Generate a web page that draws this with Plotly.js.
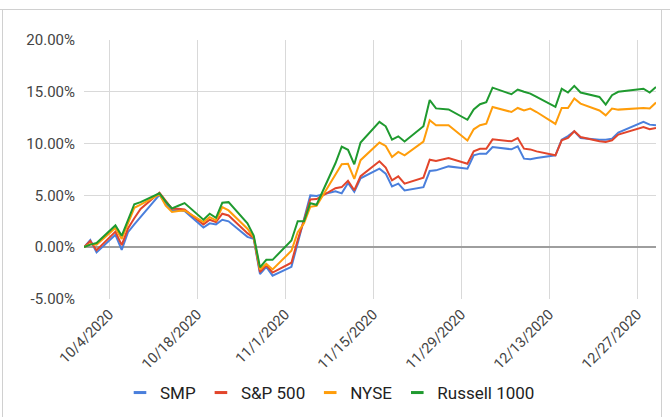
<!DOCTYPE html>
<html>
<head>
<meta charset="utf-8">
<script src="https://cdn.plot.ly/plotly-3.0.1.min.js"></script>
<style>
html,body{margin:0;padding:0;background:#fff;}
#chart{width:670px;height:417px;}
</style>
</head>
<body>
<div id="chart"></div>
<script>
const dates = ['2020-09-30','2020-10-01','2020-10-02','2020-10-05','2020-10-06','2020-10-07','2020-10-08','2020-10-09','2020-10-12','2020-10-13','2020-10-14','2020-10-15','2020-10-16','2020-10-19','2020-10-20','2020-10-21','2020-10-22','2020-10-23','2020-10-26','2020-10-27','2020-10-28','2020-10-29','2020-10-30','2020-11-02','2020-11-03','2020-11-04','2020-11-05','2020-11-06','2020-11-09','2020-11-10','2020-11-11','2020-11-12','2020-11-13','2020-11-16','2020-11-17','2020-11-18','2020-11-19','2020-11-20','2020-11-23','2020-11-24','2020-11-25','2020-11-27','2020-11-30','2020-12-01','2020-12-02','2020-12-03','2020-12-04','2020-12-07','2020-12-08','2020-12-09','2020-12-10','2020-12-11','2020-12-14','2020-12-15','2020-12-16','2020-12-17','2020-12-18','2020-12-21','2020-12-22','2020-12-23','2020-12-24','2020-12-28','2020-12-29','2020-12-30'];

const seriesNames = ['SMP', 'S&P 500', 'NYSE', 'Russell 1000'];

const smp = [0, 0.7, -0.5, 1.2, -0.25, 1.45, 2.2, 2.9, 5.05, 4.2, 3.55, 3.6, 3.5, 1.9, 2.3, 2.2, 2.65, 2.5, 1.0, 0.8, -2.6, -1.9, -2.75, -1.9, 0.4, 2.5, 5.0, 4.95, 5.4, 5.2, 6.2, 5.35, 6.65, 7.58, 7.1, 5.87, 6.13, 5.48, 5.8, 7.35, 7.42, 7.8, 7.58, 8.87, 9.03, 9.03, 9.67, 9.45, 9.74, 8.55, 8.48, 8.6, 8.87, 10.38, 10.73, 11.19, 10.54, 10.38, 10.38, 10.48, 11.06, 12.09, 11.83, 11.77];

const sp500 = [0, 0.6, -0.3, 1.5, 0.2, 1.8, 2.8, 3.7, 5.25, 4.5, 3.7, 3.7, 3.65, 2.2, 2.65, 2.42, 3.23, 3.06, 1.36, 0.9, -2.4, -1.75, -2.45, -1.5, 0.7, 2.6, 4.6, 4.65, 5.7, 5.8, 6.4, 5.5, 6.85, 8.29, 7.68, 6.45, 6.84, 6.13, 6.71, 8.45, 8.32, 8.6, 8.06, 9.25, 9.5, 9.5, 10.41, 10.22, 10.54, 9.51, 9.44, 9.25, 8.87, 10.32, 10.54, 11.19, 10.64, 10.22, 10.16, 10.32, 10.87, 11.6, 11.38, 11.5];

const nyse = [0, 0.3, 0.25, 1.85, 0.8, 2.4, 3.8, 4.1, 5.1, 4.0, 3.4, 3.5, 3.55, 2.42, 2.9, 2.58, 3.87, 3.55, 1.78, 0.97, -2.15, -1.6, -2.15, -0.35, 1.45, 2.3, 3.9, 4.0, 7.0, 8.0, 8.05, 6.6, 8.4, 10.1, 9.77, 8.7, 9.2, 8.87, 10.2, 12.25, 11.77, 11.77, 10.3, 11.38, 11.77, 11.93, 13.54, 13.05, 13.44, 13.2, 13.38, 13.05, 11.9, 13.44, 13.44, 14.35, 13.86, 13.2, 12.73, 13.38, 13.28, 13.44, 13.38, 13.96];

const russell1000 = [0, 0.25, 0.4, 2.1, 1.1, 2.7, 4.15, 4.35, 5.2, 4.4, 3.75, 4.0, 4.26, 2.65, 3.23, 2.84, 4.29, 4.35, 2.3, 1.13, -1.95, -1.22, -1.22, 0.65, 2.5, 2.5, 4.25, 4.1, 8.1, 9.7, 9.4, 8.0, 10.1, 12.1, 11.67, 10.38, 10.7, 10.2, 11.67, 14.2, 13.4, 13.3, 12.3, 13.3, 13.8, 14.0, 15.4, 14.77, 15.22, 15.0, 14.83, 14.5, 13.54, 15.3, 14.93, 15.57, 14.93, 14.5, 13.77, 14.67, 15.0, 15.3, 14.93, 15.47];

const yTickVals = [-5, 0, 5, 10, 15, 20];
const yTickText = ['-5.00%', '0.00%', '5.00%', '10.00%', '15.00%', '20.00%'];

const colors = ['#4a7fdc', '#e2452b', '#ff9d0a', '#1f9a2f'];
const values = [smp, sp500, nyse, russell1000];

const traces = [];
values.forEach((vals, i) => {
  traces.push({
    type: 'scatter', mode: 'lines', x: dates, y: vals, name: seriesNames[i],
    line: {color: colors[i], width: 2}, showlegend: false, legendgroup: 'g' + i,
    hovertemplate: '%{x}<br>%{y:.2f}%<extra>' + seriesNames[i] + '</extra>'
  });
});
values.forEach((vals, i) => {
  traces.push({
    type: 'scatter', mode: 'markers', x: [null], y: [null], name: seriesNames[i],
    marker: {symbol: 'line-ew-open', size: 9, color: colors[i], line: {color: colors[i], width: 3}},
    legendgroup: 'g' + i, showlegend: true
  });
});

const W = 670, H = 417, L = 84, R = 14, T = 40, B = 118;
const pw = W - L - R, ph = H - T - B;
const px = v => (v - L) / pw;
const py = v => (H - B - v) / ph;

const borderColor = '#d0d0d0';
const shapes = [
  {type: 'line', xref: 'paper', yref: 'paper', x0: px(0), x1: px(670), y0: py(9.5), y1: py(9.5), line: {color: borderColor, width: 1}},
  {type: 'line', xref: 'paper', yref: 'paper', x0: px(2.5), x1: px(2.5), y0: py(9.5), y1: py(417), line: {color: borderColor, width: 1}},
  {type: 'line', xref: 'paper', yref: 'paper', x0: px(661.5), x1: px(661.5), y0: py(9.5), y1: py(417), line: {color: borderColor, width: 1}}
];

const layout = {
  width: W, height: H,
  margin: {l: L, r: R, t: T, b: B, pad: 0, autoexpand: false},
  paper_bgcolor: '#ffffff', plot_bgcolor: '#ffffff',
  font: {family: 'Roboto, Arial, sans-serif', color: '#444', size: 15},
  xaxis: {
    type: 'date', range: ['2020-09-30', '2020-12-30'],
    tick0: '2020-10-04', dtick: 14 * 86400000, tickformat: '%-m/%-d/%Y',
    tickangle: -45, showgrid: true, gridcolor: '#d9d9d9', gridwidth: 1,
    zeroline: false, showline: false, ticks: '', ticklen: 0, ticklabelstandoff: 3,
    tickfont: {size: 14.5, color: '#444'}, fixedrange: true, automargin: false
  },
  yaxis: {
    range: [-5, 20], tickvals: yTickVals, ticktext: yTickText,
    showgrid: true, gridcolor: '#d9d9d9', gridwidth: 1,
    zeroline: true, zerolinecolor: '#9e9e9e', zerolinewidth: 1.5,
    showline: false, ticks: '', ticklabelstandoff: 8,
    tickfont: {size: 15, color: '#444'}, fixedrange: true, automargin: false
  },
  legend: {
    orientation: 'h', x: px(330), xanchor: 'center', y: py(393), yanchor: 'middle',
    font: {size: 17, color: '#222'}, itemwidth: 30, traceorder: 'normal',
    bgcolor: 'rgba(0,0,0,0)'
  },
  shapes: shapes,
  showlegend: true
};

Plotly.newPlot('chart', traces, layout, {displayModeBar: false, staticPlot: true});
</script>
</body>
</html>
